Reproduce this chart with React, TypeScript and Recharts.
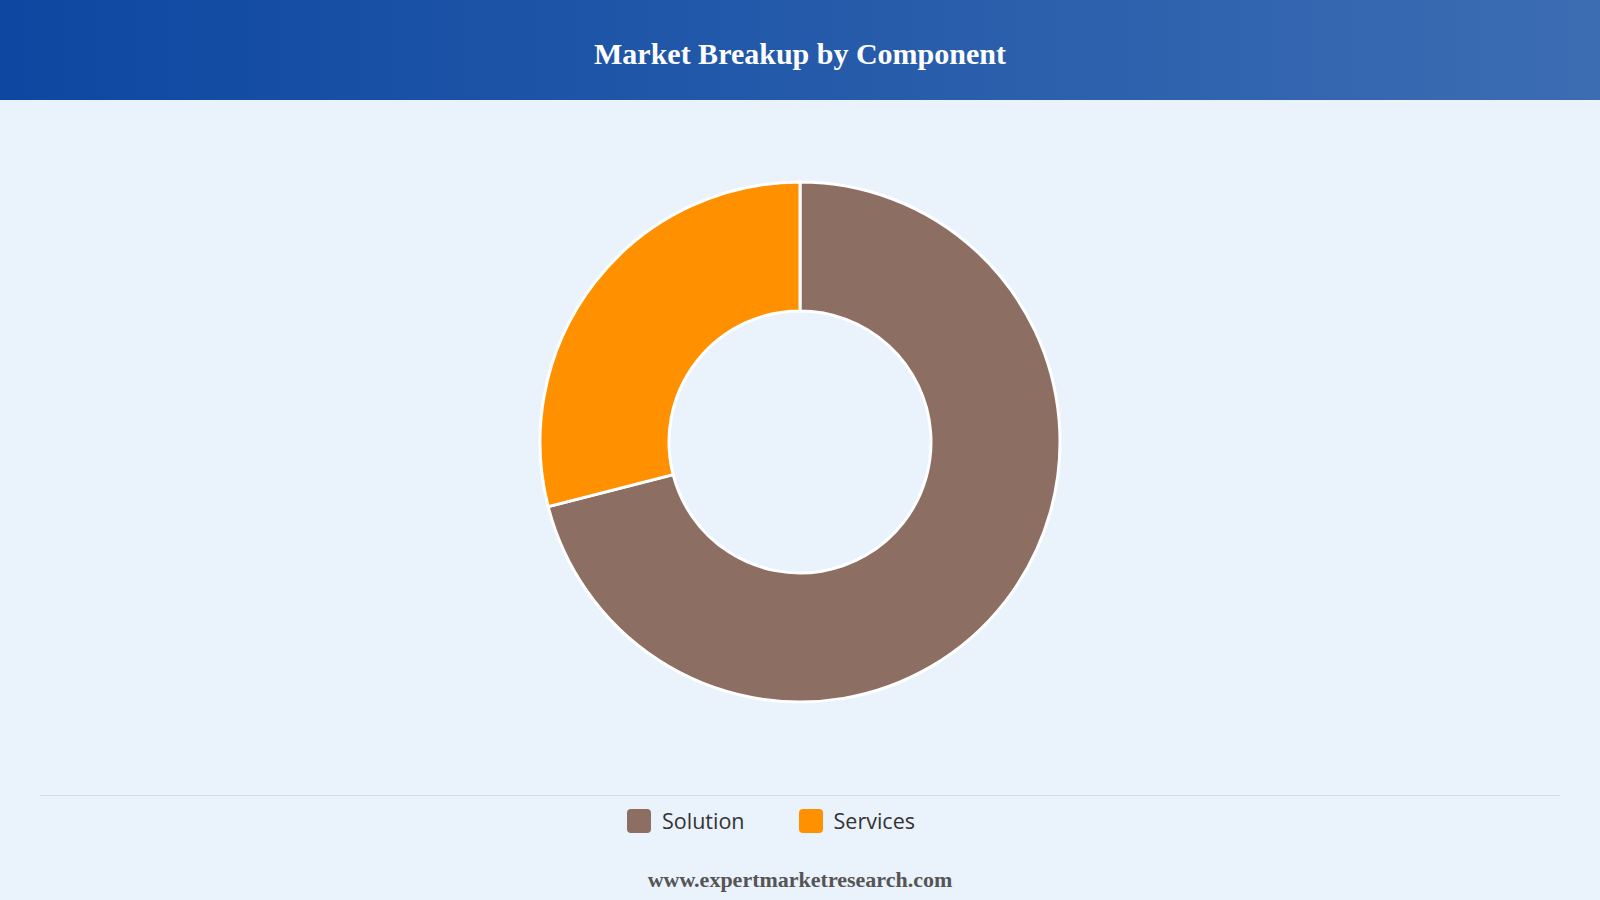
import { PieChart, Pie, Cell, Legend } from "recharts";

const segments = ["Solution", "Services"];
const shares = [71, 29];
const colors = ["#8D6E63", "#FF9100"];

const data = segments.map((name, i) => ({ name, value: shares[i] }));

const renderLegend = () => (
  <div
    style={{
      borderTop: "1.5px solid #d6d9dd",
      display: "flex",
      justifyContent: "center",
      gap: 54,
      paddingTop: 10,
      paddingRight: 58,
      fontFamily: "'Open Sans', sans-serif",
      fontSize: 21.5,
      color: "#333",
    }}
  >
    {data.map((d, i) => (
      <div key={d.name} style={{ display: "flex", alignItems: "center", gap: 11 }}>
        <span
          style={{
            width: 24,
            height: 24,
            borderRadius: 4,
            background: colors[i],
            display: "inline-block",
          }}
        />
        <span>{d.name}</span>
      </div>
    ))}
  </div>
);

export default function App() {
  return (
    <div
      style={{
        width: 1600,
        height: 900,
        background: "#EAF2FB",
        position: "relative",
        overflow: "hidden",
      }}
    >
      <style>{"body{margin:0}"}</style>
      <div
        style={{
          height: 100,
          background: "linear-gradient(90deg, #0D47A1 0%, #3C6DB3 100%)",
          display: "flex",
          alignItems: "center",
          justifyContent: "center",
          color: "#fff",
          fontFamily: "'Liberation Serif', 'Times New Roman', serif",
          fontWeight: "bold",
          fontSize: 30,
          paddingTop: 8,
          boxSizing: "border-box",
        }}
      >
        Market Breakup by Component
      </div>
      <PieChart width={1600} height={760}>
        <Pie
          data={data}
          dataKey="value"
          nameKey="name"
          cx={795}
          cy={337}
          innerRadius={131}
          outerRadius={260}
          startAngle={90}
          endAngle={-270}
          stroke="#ffffff"
          strokeWidth={3}
          isAnimationActive={false}
        >
          {data.map((d, i) => (
            <Cell key={d.name} fill={colors[i]} />
          ))}
        </Pie>
        <Legend
          content={renderLegend}
          wrapperStyle={{ position: "absolute", top: 695, left: 40, width: 1520 }}
        />
      </PieChart>
      <div
        style={{
          position: "absolute",
          top: 867,
          left: 0,
          width: 1600,
          textAlign: "center",
          fontFamily: "'Liberation Serif', 'Times New Roman', serif",
          fontWeight: "bold",
          fontSize: 22,
          color: "#555",
        }}
      >
        www.expertmarketresearch.com
      </div>
    </div>
  );
}
